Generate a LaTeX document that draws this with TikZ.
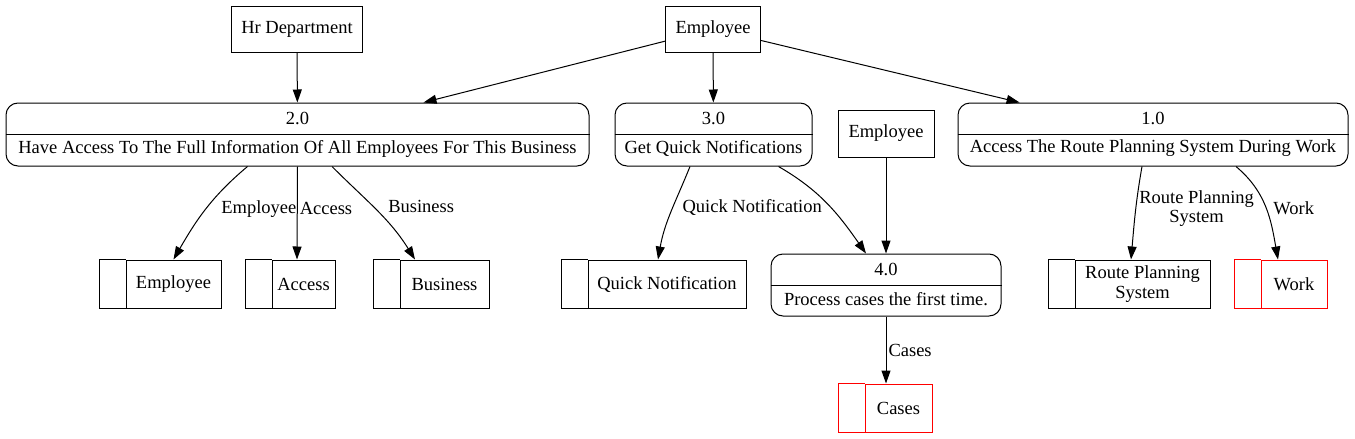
\documentclass[tikz,border=0pt]{standalone}
\usepackage{fontspec}
\setmainfont{Liberation Serif}
\usepackage{tikz}
\usetikzlibrary{arrows.meta, positioning}

\tikzset{
    entity/.style={draw, line width=1pt, inner sep=0pt},
    proc/.style={draw, line width=1pt, rounded corners=12pt, inner sep=0pt},
    store/.style={draw, line width=1pt, inner sep=0pt, minimum height=48pt, align=center},
    flow/.style={line width=1pt, -{Triangle[length=13pt, width=9pt]}},
    lbl/.style={inner sep=1pt, align=center}
}

\begin{document}
\begin{tikzpicture}[x=1pt, y=1pt, font=\rmfamily\fontsize{18.5}{19.5}\selectfont]
    \useasboundingbox (0,0) rectangle (1355,-439);

    % External entities
    \node[entity, minimum width=131pt, minimum height=46pt] (hr) at (297,-29) {Hr Department};
    \node[entity, minimum width=95pt, minimum height=46pt] (etop) at (713,-29) {Employee};
    \node[entity, minimum width=96pt, minimum height=47pt] (emid) at (886,-133.5) {Employee};

    % Processes
    \node[proc, minimum width=583pt, minimum height=63pt] (p2) at (297.5,-134.5) {};
    \node[proc, minimum width=197pt, minimum height=63pt] (p3) at (713.5,-134.5) {};
    \node[proc, minimum width=390pt, minimum height=63pt] (p1) at (1153,-134.5) {};
    \node[proc, minimum width=230pt, minimum height=62pt] (p4) at (886,-285) {};
    \foreach \p in {p2, p3, p1, p4}
        \draw[line width=1pt] (\p.west) -- (\p.east);
    \node (p2n) at ([yshift=16pt]p2.center) {2.0};
    \node (p2t) at ([yshift=-14pt]p2.center) {Have Access To The Full Information Of All Employees For This Business};
    \node (p3n) at ([yshift=16pt]p3.center) {3.0};
    \node (p3t) at ([yshift=-14pt]p3.center) {Get Quick Notifications};
    \node (p1n) at ([yshift=16pt]p1.center) {1.0};
    \node (p1t) at ([yshift=-14pt]p1.center) {Access The Route Planning System During Work};
    \node (p4n) at ([yshift=16pt]p4.center) {4.0};
    \node (p4t) at ([yshift=-14pt]p4.center) {Process cases the first time.};

    % Data stores
    \node[store, minimum width=95pt] (sEmp) at (173.5,-284) {Employee};
    \node[store, minimum width=63pt] (sAcc) at (303.5,-284) {Access};
    \node[store, minimum width=89pt] (sBus) at (444.5,-284) {Business};
    \node[store, minimum width=158pt] (sQN) at (667,-284) {Quick Notification};
    \node[store, minimum width=135pt] (sRPS) at (1142.5,-284) {Route Planning\\System};
    \node[store, draw=red, minimum width=66pt] (sWork) at (1294,-284) {Work};
    \node[store, draw=red, minimum width=67pt] (sCases) at (898.5,-408) {Cases};
    \foreach \s/\c in {sEmp/black, sAcc/black, sBus/black, sQN/black, sRPS/black, sWork/red, sCases/red}
        \draw[line width=1pt, \c] (\s.north west) -- ++(-26,0) |- (\s.south west);

    % Flows
    \draw[flow] (hr) -- (p2);
    \draw[flow] (etop) -- (p2);
    \draw[flow] (etop) -- (p3);
    \draw[flow] (etop) -- (p1);
    \draw[flow] (emid) -- (p4);
    \draw[flow] ([xshift=-50pt]p2.south) to[out=-140, in=60] node[lbl, pos=0.5, right=14pt] {Employee} (sEmp.north);
    \draw[flow] (p2.south) -- node[lbl, pos=0.45, right=1pt] {Access} ([xshift=-6.5pt]sAcc.north);
    \draw[flow] ([xshift=34.5pt]p2.south) to[out=-45, in=122] node[lbl, pos=0.45, right=14pt] {Business} ([xshift=-29.5pt]sBus.north);
    \draw[flow] ([xshift=-23.5pt]p3.south) to[out=-112, in=80] node[lbl, pos=0.44, right=8pt] {Quick Notification} ([xshift=-9pt]sQN.north);
    \draw[flow] ([xshift=65pt]p3.south) to[out=-30, in=125] ([xshift=-20pt]p4.north);
    \draw[flow] (p4.south) -- node[lbl, pos=0.5, right=1pt] {Cases} (p4.south |- sCases.north);
    \draw[flow] ([xshift=-11pt]p1.south) to[out=-100, in=85] node[lbl, pos=0.45, right=2pt] {Route Planning\\System} ([xshift=-11.5pt]sRPS.north);
    \draw[flow] ([xshift=83pt]p1.south) to[out=-40, in=100] node[lbl, pos=0.5, right=6pt] {Work} ([xshift=-16pt]sWork.north);
\end{tikzpicture}
\end{document}
